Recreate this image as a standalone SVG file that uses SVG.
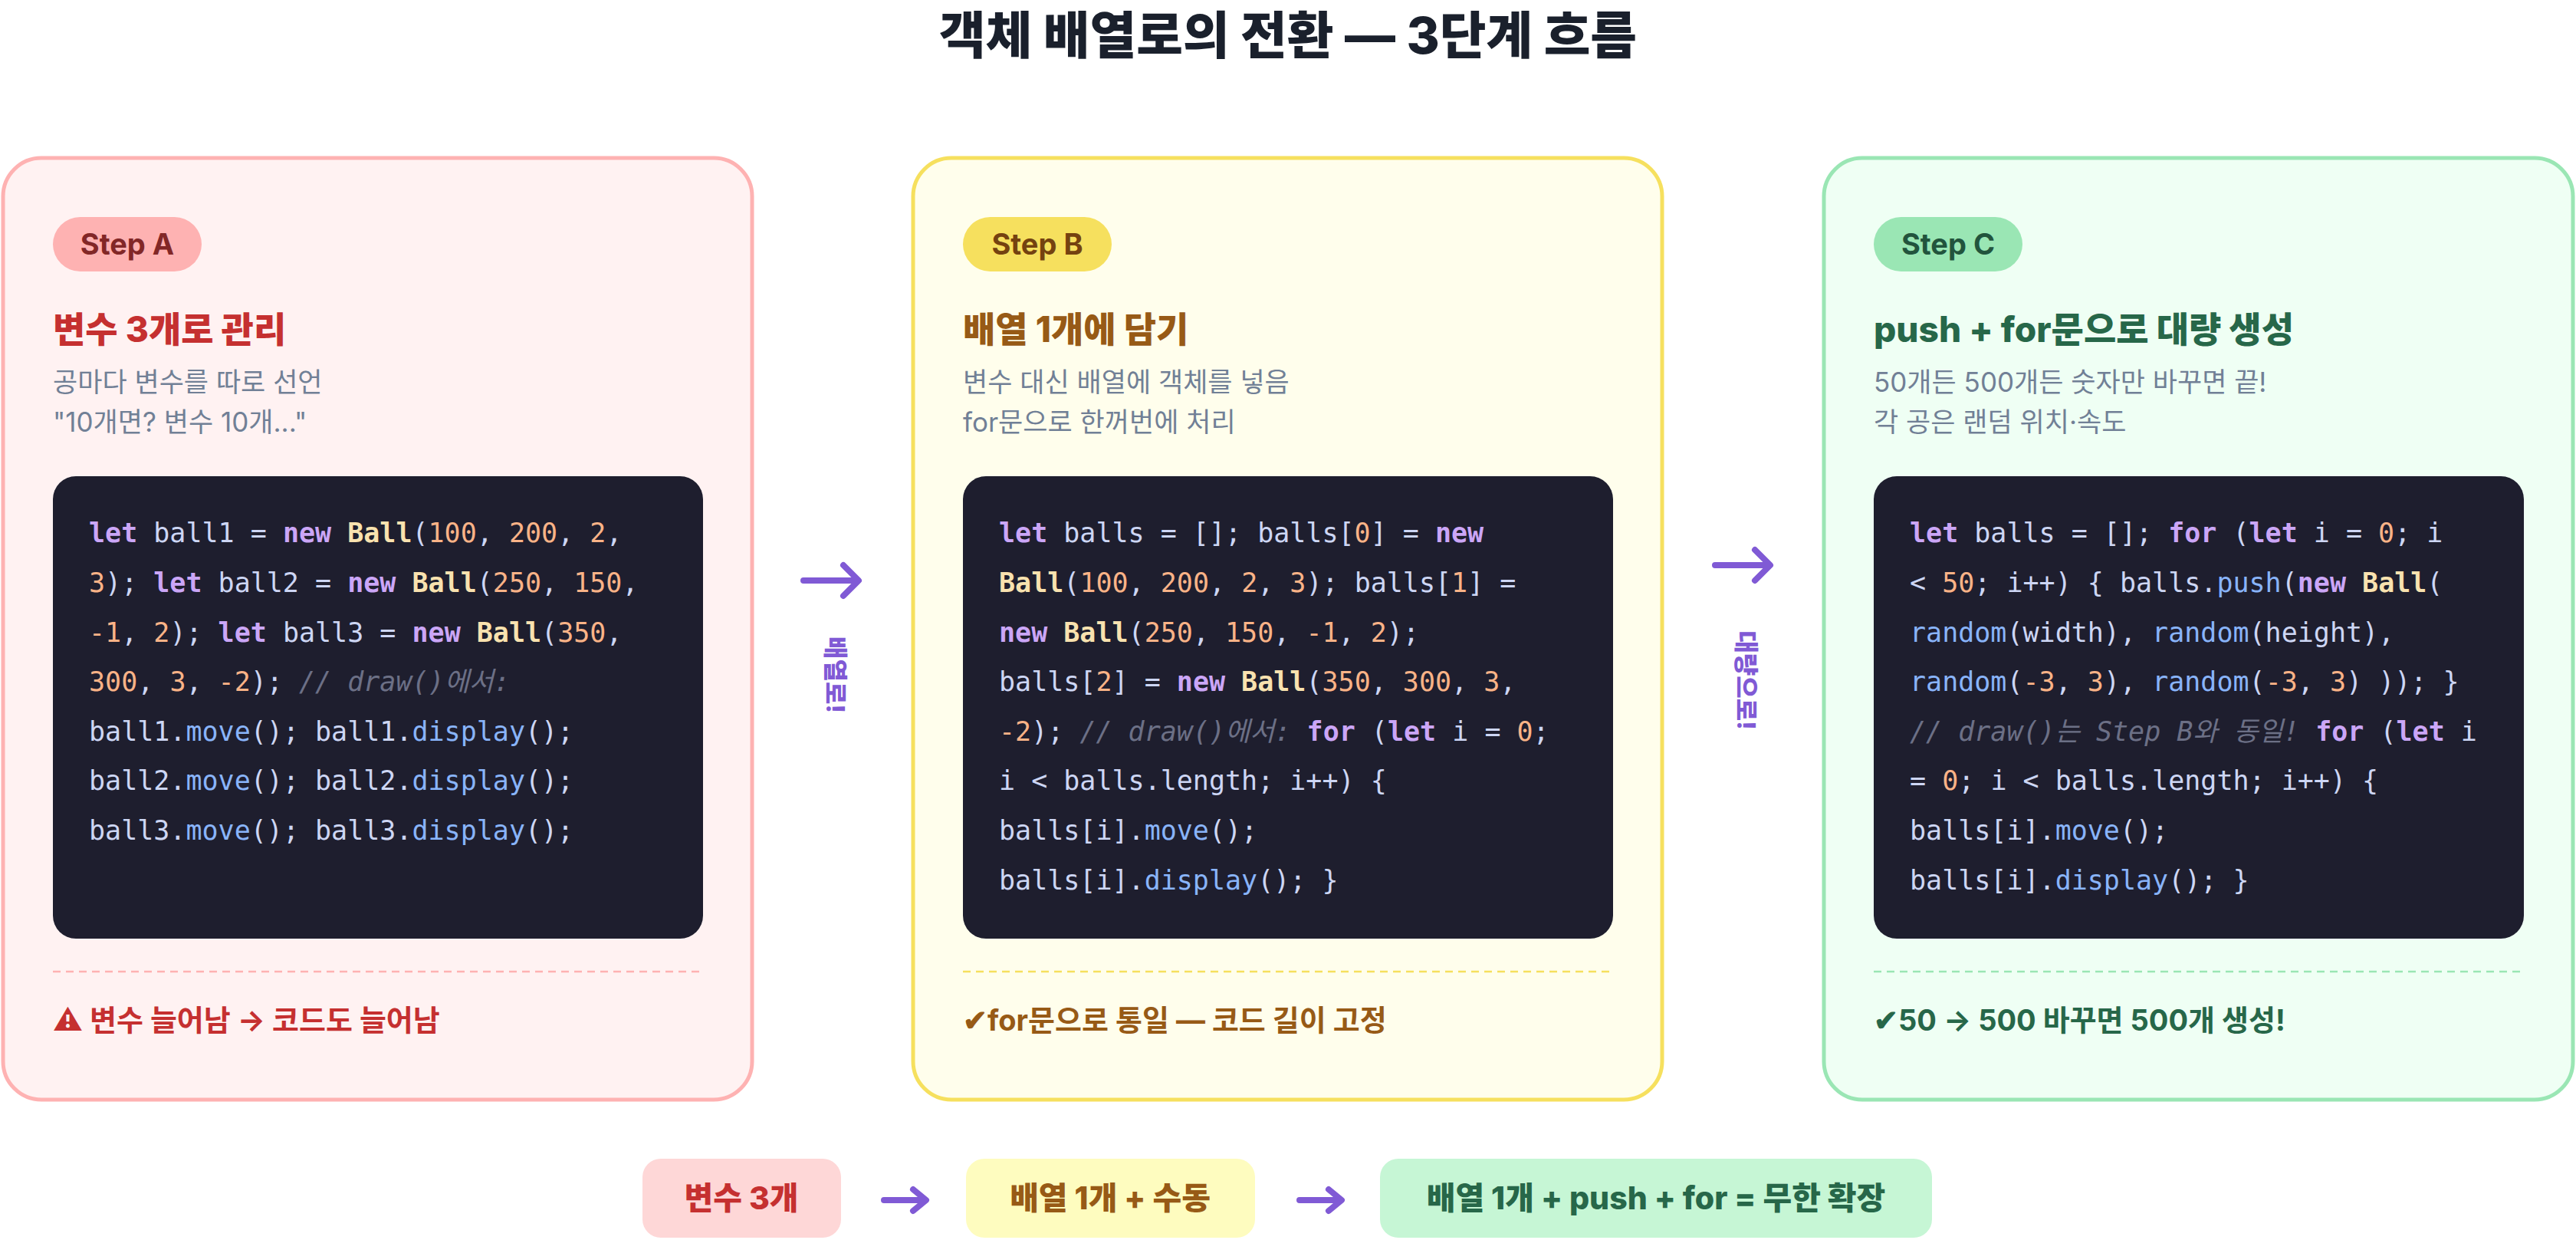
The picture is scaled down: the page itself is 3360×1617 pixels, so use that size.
<svg xmlns="http://www.w3.org/2000/svg" width="3360" height="1617" viewBox="0 0 3360 1617">
<style>
.t{font-family:"Inter","Noto Sans","Noto Sans CJK KR",sans-serif}
.title{font-size:66px;font-weight:800;fill:#1a202c}
.pill{font-size:38px;font-weight:700}
.h{font-size:46px;font-weight:800}
.sub{font-size:35px;fill:#718096}
.foot{font-size:38px;font-weight:700}
.code{font-family:"DejaVu Sans Mono","Noto Sans CJK KR",monospace;font-size:35px;fill:#cdd6f4}
.k{fill:#cba6f7;font-weight:700}
.c{fill:#f9e2af;font-weight:700}
.n{fill:#fab387}
.m{fill:#89b4fa}
.cm{fill:#6c7086;font-style:italic}
.arr{stroke:#805ad5;stroke-width:8;fill:none;stroke-linecap:round;stroke-linejoin:round}
.vt{font-size:32px;font-weight:800;fill:#805ad5}
.bp{font-size:41px;font-weight:800}
</style>
<rect width="3360" height="1617" fill="#ffffff"/>
<text class="t title" x="1680" y="70" text-anchor="middle">객체 배열로의 전환 — 3단계 흐름</text>

<g id="stepA">
<rect x="4" y="206" width="977" height="1228" rx="50" fill="#fff2f2" stroke="#feb2b2" stroke-width="5"/>
<rect x="69" y="283" width="194" height="71" rx="35.5" fill="#feb2b2"/>
<text class="t pill" x="166" y="332" text-anchor="middle" fill="#822727">Step A</text>
<text class="t h" x="69" y="446" fill="#c53030">변수 3개로 관리</text>
<text class="t sub" x="69" y="511">공마다 변수를 따로 선언</text>
<text class="t sub" x="69" y="563">"10개면? 변수 10개..."</text>
<rect x="69" y="621" width="848" height="603" rx="30" fill="#1e1e2e"/>
<text class="code" x="116" y="707"><tspan class="k">let</tspan> ball1 = <tspan class="k">new</tspan> <tspan class="c">Ball</tspan>(<tspan class="n">100</tspan>, <tspan class="n">200</tspan>, <tspan class="n">2</tspan>,</text>
<text class="code" x="116" y="772"><tspan class="n">3</tspan>); <tspan class="k">let</tspan> ball2 = <tspan class="k">new</tspan> <tspan class="c">Ball</tspan>(<tspan class="n">250</tspan>, <tspan class="n">150</tspan>,</text>
<text class="code" x="116" y="837"><tspan class="n">-1</tspan>, <tspan class="n">2</tspan>); <tspan class="k">let</tspan> ball3 = <tspan class="k">new</tspan> <tspan class="c">Ball</tspan>(<tspan class="n">350</tspan>,</text>
<text class="code" x="116" y="901"><tspan class="n">300</tspan>, <tspan class="n">3</tspan>, <tspan class="n">-2</tspan>); <tspan class="cm">// draw()에서:</tspan></text>
<text class="code" x="116" y="966">ball1.<tspan class="m">move</tspan>(); ball1.<tspan class="m">display</tspan>();</text>
<text class="code" x="116" y="1030">ball2.<tspan class="m">move</tspan>(); ball2.<tspan class="m">display</tspan>();</text>
<text class="code" x="116" y="1095">ball3.<tspan class="m">move</tspan>(); ball3.<tspan class="m">display</tspan>();</text>
<line x1="69" y1="1267" x2="917" y2="1267" stroke="#feb2b2" stroke-width="2.5" stroke-dasharray="10 7"/>
<text class="t foot" x="69" y="1344" fill="#c53030">⚠ 변수 늘어남 → 코드도 늘어남</text>
</g>

<g id="stepB">
<rect x="1191" y="206" width="977" height="1228" rx="50" fill="#fffeec" stroke="#f6e05e" stroke-width="5"/>
<rect x="1256" y="283" width="194" height="71" rx="35.5" fill="#f6e05e"/>
<text class="t pill" x="1353" y="332" text-anchor="middle" fill="#744210">Step B</text>
<text class="t h" x="1256" y="446" fill="#975a16">배열 1개에 담기</text>
<text class="t sub" x="1256" y="511">변수 대신 배열에 객체를 넣음</text>
<text class="t sub" x="1256" y="563">for문으로 한꺼번에 처리</text>
<rect x="1256" y="621" width="848" height="603" rx="30" fill="#1e1e2e"/>
<text class="code" x="1303" y="707"><tspan class="k">let</tspan> balls = []; balls[<tspan class="n">0</tspan>] = <tspan class="k">new</tspan></text>
<text class="code" x="1303" y="772"><tspan class="c">Ball</tspan>(<tspan class="n">100</tspan>, <tspan class="n">200</tspan>, <tspan class="n">2</tspan>, <tspan class="n">3</tspan>); balls[<tspan class="n">1</tspan>] =</text>
<text class="code" x="1303" y="837"><tspan class="k">new</tspan> <tspan class="c">Ball</tspan>(<tspan class="n">250</tspan>, <tspan class="n">150</tspan>, <tspan class="n">-1</tspan>, <tspan class="n">2</tspan>);</text>
<text class="code" x="1303" y="901">balls[<tspan class="n">2</tspan>] = <tspan class="k">new</tspan> <tspan class="c">Ball</tspan>(<tspan class="n">350</tspan>, <tspan class="n">300</tspan>, <tspan class="n">3</tspan>,</text>
<text class="code" x="1303" y="966"><tspan class="n">-2</tspan>); <tspan class="cm">// draw()에서:</tspan> <tspan class="k">for</tspan> (<tspan class="k">let</tspan> i = <tspan class="n">0</tspan>;</text>
<text class="code" x="1303" y="1030">i &lt; balls.length; i++) {</text>
<text class="code" x="1303" y="1095">balls[i].<tspan class="m">move</tspan>();</text>
<text class="code" x="1303" y="1160">balls[i].<tspan class="m">display</tspan>(); }</text>
<line x1="1256" y1="1267" x2="2104" y2="1267" stroke="#f6e05e" stroke-width="2.5" stroke-dasharray="10 7"/>
<text class="t foot" x="1256" y="1344" fill="#975a16">✔for문으로 통일 — 코드 길이 고정</text>
</g>

<g id="stepC">
<rect x="2379" y="206" width="977" height="1228" rx="50" fill="#effff4" stroke="#9ae6b4" stroke-width="5"/>
<rect x="2444" y="283" width="194" height="71" rx="35.5" fill="#9ae6b4"/>
<text class="t pill" x="2541" y="332" text-anchor="middle" fill="#22543d">Step C</text>
<text class="t h" x="2444" y="446" fill="#276749">push + for문으로 대량 생성</text>
<text class="t sub" x="2444" y="511">50개든 500개든 숫자만 바꾸면 끝!</text>
<text class="t sub" x="2444" y="563">각 공은 랜덤 위치·속도</text>
<rect x="2444" y="621" width="848" height="603" rx="30" fill="#1e1e2e"/>
<text class="code" x="2491" y="707"><tspan class="k">let</tspan> balls = []; <tspan class="k">for</tspan> (<tspan class="k">let</tspan> i = <tspan class="n">0</tspan>; i</text>
<text class="code" x="2491" y="772">&lt; <tspan class="n">50</tspan>; i++) { balls.<tspan class="m">push</tspan>(<tspan class="k">new</tspan> <tspan class="c">Ball</tspan>(</text>
<text class="code" x="2491" y="837"><tspan class="m">random</tspan>(width), <tspan class="m">random</tspan>(height),</text>
<text class="code" x="2491" y="901"><tspan class="m">random</tspan>(<tspan class="n">-3</tspan>, <tspan class="n">3</tspan>), <tspan class="m">random</tspan>(<tspan class="n">-3</tspan>, <tspan class="n">3</tspan>) )); }</text>
<text class="code" x="2491" y="966"><tspan class="cm">// draw()는 Step B와 동일!</tspan> <tspan class="k">for</tspan> (<tspan class="k">let</tspan> i</text>
<text class="code" x="2491" y="1030">= <tspan class="n">0</tspan>; i &lt; balls.length; i++) {</text>
<text class="code" x="2491" y="1095">balls[i].<tspan class="m">move</tspan>();</text>
<text class="code" x="2491" y="1160">balls[i].<tspan class="m">display</tspan>(); }</text>
<line x1="2444" y1="1267" x2="3292" y2="1267" stroke="#9ae6b4" stroke-width="2.5" stroke-dasharray="10 7"/>
<text class="t foot" x="2444" y="1344" fill="#276749">✔50 → 500 바꾸면 500개 생성!</text>
</g>

<g id="connectors">
<path class="arr" d="M1048 757 H1118 M1100 737 L1120 757 L1100 777"/>
<text class="t vt" transform="translate(1078 880) rotate(90)" text-anchor="middle">배열로!</text>
<path class="arr" d="M2237 737 H2307 M2289 717 L2309 737 L2289 757"/>
<text class="t vt" transform="translate(2266 887) rotate(90)" text-anchor="middle">대량으로!</text>
<path class="arr" d="M1153 1565 H1207 M1191 1551 L1208 1565 L1191 1579"/>
<path class="arr" d="M1695 1565 H1749 M1733 1551 L1750 1565 L1733 1579"/>
</g>

<g id="sum1"><rect x="838" y="1511" width="259" height="103" rx="24" fill="#fed7d7"/><text class="t bp" x="967" y="1577" text-anchor="middle" fill="#c53030">변수 3개</text></g>
<g id="sum2"><rect x="1260" y="1511" width="377" height="103" rx="24" fill="#fefcbf"/><text class="t bp" x="1448" y="1577" text-anchor="middle" fill="#975a16">배열 1개 + 수동</text></g>
<g id="sum3"><rect x="1800" y="1511" width="720" height="103" rx="24" fill="#c6f6d5"/><text class="t bp" x="2160" y="1577" text-anchor="middle" fill="#276749">배열 1개 + push + for = 무한 확장</text></g>
</svg>
